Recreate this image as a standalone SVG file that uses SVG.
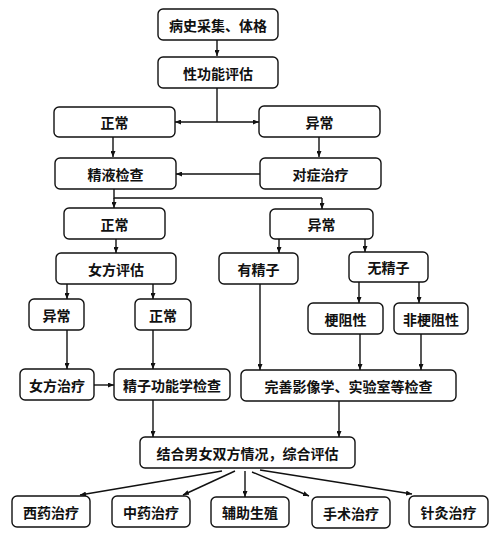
<svg xmlns="http://www.w3.org/2000/svg" width="500" height="539" viewBox="0 0 500 539">
<defs>
<marker id="ah" markerWidth="6" markerHeight="5" refX="6" refY="2.5" orient="auto" markerUnits="userSpaceOnUse">
<path d="M0,0 L6,2.5 L0,5 Z" fill="#111"/>
</marker>
<style>
.n rect{fill:#fff;stroke:#111;stroke-width:1.4;rx:5;ry:5}
.n text{font-family:"Noto Sans CJK SC","Liberation Sans",sans-serif;font-size:14px;font-weight:bold;fill:#111;text-anchor:middle;dominant-baseline:central}
#edges path{fill:none;stroke:#111;stroke-width:1.4}
#edges .a{marker-end:url(#ah)}
</style>
</defs>
<rect width="500" height="539" fill="#fff"/>
<g id="edges">
<path class="a" d="M217,40 V56"/>
<path d="M217,88 V122"/>
<path class="a" d="M217,122 H175"/>
<path class="a" d="M217,122 H259"/>
<path class="a" d="M113,137 V157"/>
<path class="a" d="M319,137 V157"/>
<path class="a" d="M260,174 H176"/>
<path d="M114,189 V198 H322"/>
<path class="a" d="M114,198 V208"/>
<path class="a" d="M322,198 V209"/>
<path class="a" d="M116,239 V253"/>
<path class="a" d="M279,239 V253"/>
<path class="a" d="M365,239 V252"/>
<path class="a" d="M67,284 V299"/>
<path class="a" d="M153,284 V299"/>
<path class="a" d="M359,282 V303"/>
<path class="a" d="M419,282 V303"/>
<path class="a" d="M67,330 V369"/>
<path class="a" d="M153,330 V369"/>
<path class="a" d="M260,284 V370"/>
<path class="a" d="M360,334 V370"/>
<path class="a" d="M421,334 V370"/>
<path class="a" d="M94,385 H114"/>
<path class="a" d="M153,400 V437"/>
<path class="a" d="M339,401 V437"/>
<path class="a" d="M222,471 L80,495"/>
<path class="a" d="M235,471 L183,495"/>
<path class="a" d="M245,471 V497"/>
<path class="a" d="M252,472 L309,496"/>
<path class="a" d="M260,470 L412,494"/>
</g>
<g id="n1" class="n"><rect x="158" y="9" width="120" height="31"/><text x="218" y="25">病史采集、体格</text></g>
<g id="n2" class="n"><rect x="158" y="57" width="120" height="31"/><text x="218" y="73">性功能评估</text></g>
<g id="n3" class="n"><rect x="54" y="107" width="121" height="30"/><text x="114.5" y="122">正常</text></g>
<g id="n4" class="n"><rect x="259" y="106" width="121" height="31"/><text x="319.5" y="122">异常</text></g>
<g id="n5" class="n"><rect x="55" y="158" width="121" height="31"/><text x="115.5" y="174">精液检查</text></g>
<g id="n6" class="n"><rect x="260" y="158" width="121" height="31"/><text x="320.5" y="174">对症治疗</text></g>
<g id="n7" class="n"><rect x="64" y="208" width="101" height="31"/><text x="114.5" y="224">正常</text></g>
<g id="n8" class="n"><rect x="270" y="209" width="103" height="30"/><text x="321.5" y="224">异常</text></g>
<g id="n9" class="n"><rect x="56" y="253" width="120" height="31"/><text x="116" y="269">女方评估</text></g>
<g id="n10" class="n"><rect x="219" y="253" width="79" height="31"/><text x="258.5" y="269">有精子</text></g>
<g id="n11" class="n"><rect x="349" y="252" width="79" height="30"/><text x="388.5" y="267">无精子</text></g>
<g id="n12" class="n"><rect x="29" y="299" width="55" height="31"/><text x="56.5" y="315">异常</text></g>
<g id="n13" class="n"><rect x="135" y="299" width="56" height="31"/><text x="163" y="315">正常</text></g>
<g id="n14" class="n"><rect x="308" y="303" width="75" height="31"/><text x="345.5" y="319">梗阻性</text></g>
<g id="n15" class="n"><rect x="394" y="303" width="74" height="31"/><text x="431" y="319">非梗阻性</text></g>
<g id="n16" class="n"><rect x="20" y="369" width="74" height="31"/><text x="57" y="385">女方治疗</text></g>
<g id="n17" class="n"><rect x="114" y="369" width="116" height="31"/><text x="172" y="385">精子功能学检查</text></g>
<g id="n18" class="n"><rect x="241" y="370" width="215" height="31"/><text x="348.5" y="386">完善影像学、实验室等检查</text></g>
<g id="n19" class="n"><rect x="140" y="437" width="215" height="31"/><text x="247.5" y="453">结合男女双方情况，综合评估</text></g>
<g id="n20" class="n"><rect x="12" y="496" width="78" height="31"/><text x="51" y="512">西药治疗</text></g>
<g id="n21" class="n"><rect x="112" y="496" width="78" height="31"/><text x="151" y="512">中药治疗</text></g>
<g id="n22" class="n"><rect x="211" y="497" width="78" height="30"/><text x="250" y="512">辅助生殖</text></g>
<g id="n23" class="n"><rect x="312" y="497" width="78" height="31"/><text x="351" y="513">手术治疗</text></g>
<g id="n24" class="n"><rect x="409" y="496" width="79" height="31"/><text x="448.5" y="512">针灸治疗</text></g>
</svg>
